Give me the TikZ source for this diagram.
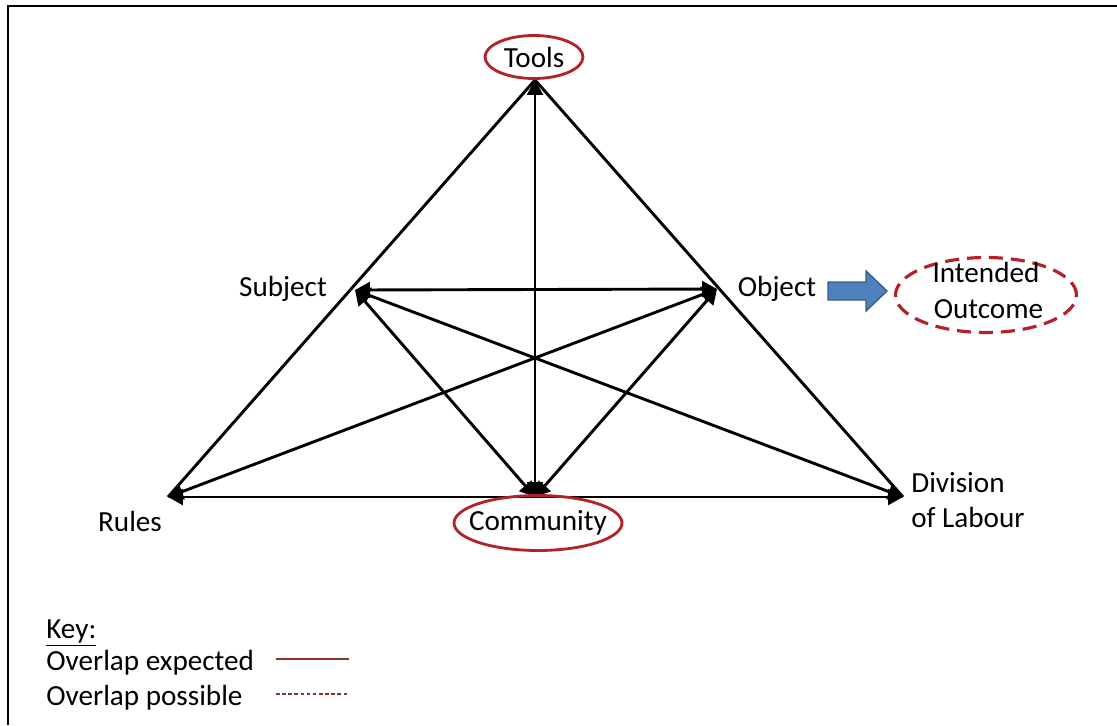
\documentclass[tikz,border=0pt]{standalone}
\usepackage{fontspec}
\setmainfont{Carlito}
\usetikzlibrary{arrows.meta,shapes.geometric}
\definecolor{ovalred}{RGB}{178,34,40}
\definecolor{keyred}{RGB}{140,50,50}
\definecolor{flowfill}{RGB}{79,129,189}
\definecolor{flowedge}{RGB}{56,93,138}
\begin{document}
\begin{tikzpicture}[x=0.02cm,y=-0.02cm,
  font=\fontsize{16.6}{20.4}\selectfont,
  link/.style={line width=1.65pt,black},
  both/.style={link,{Triangle[length=8.5pt,width=9pt]}-{Triangle[length=8.5pt,width=9pt]}},
  label/.style={inner sep=0pt},
  oval/.style={ellipse,draw=ovalred,line width=1.6pt,inner sep=0pt},
  ovaldash/.style={oval,dash pattern=on 8pt off 4.5pt,line width=1.8pt}]
  \useasboundingbox (0,0) rectangle (1117,725);
  % frame
  \draw[line width=1.6pt] (8,725) -- (8,6) -- (1117,6);

  % triangle corners
  \coordinate (T) at (535,80);
  \coordinate (S) at (355,290);
  \coordinate (O) at (717,289);
  \coordinate (R) at (168,497);
  \coordinate (C) at (535,497);
  \coordinate (D) at (903,497);

  % outer sides
  \draw[link] (R) -- (T);
  \draw[link] (T) -- (D);
  \draw[both] (R) -- (D);
  % inner links
  \draw[both] (S) -- (O);
  \draw[both] (S) -- (D);
  \draw[both] (O) -- (R);
  \draw[both] (C) -- (S);
  \draw[both] (C) -- (O);
  \draw[both] (C) -- (T);

  % labels
  \node[oval,minimum width=1.96cm,minimum height=0.86cm,fill=white] (tools) at (534,57) {\makebox[0pt]{Tools}};
  \node[label] (subj) at (283,289) {Subject};
  \node[label] (obj) at (777,289) {Object};
  \node[label] (rules) at (130,521) {Rules};
  \node[label,anchor=west,align=left] (div) at (911,500) {Division\\of Labour};
  \node[oval,minimum width=3.36cm,minimum height=1.1cm] (comm) at (538,523) {\makebox[0pt]{Community}};
  \node[ovaldash,minimum width=3.62cm,minimum height=1.5cm] (goal) at (986,295)
    {\makebox[0pt]{\smash{\raisebox{-3.4pt}{\begin{tabular}{@{}c@{}}Intended\\\,Outcome\end{tabular}}}}};

  % block arrow towards the outcome
  \filldraw[fill=flowfill,draw=flowedge,line width=0.8pt]
    (828,282) -- (866,282) -- (866,271) -- (887,291) -- (866,311) -- (866,300) -- (828,300) -- cycle;

  % key
  \node[label,anchor=west] (key) at (46,633) {\underline{Key:}};
  \node[label,anchor=west] (kexp) at (46,663) {Overlap expected};
  \node[label,anchor=west] (kpos) at (46,698) {Overlap possible};
  \coordinate (k1a) at (276,659);
  \coordinate (k1b) at (349,659);
  \coordinate (k2a) at (276,694);
  \coordinate (k2b) at (349,694);
  \draw[keyred,line width=0.7pt] (k1a) -- (k1b);
  \draw[keyred,line width=0.6pt,dash pattern=on 2pt off 1.5pt] (k2a) -- (k2b);
\end{tikzpicture}
\end{document}
